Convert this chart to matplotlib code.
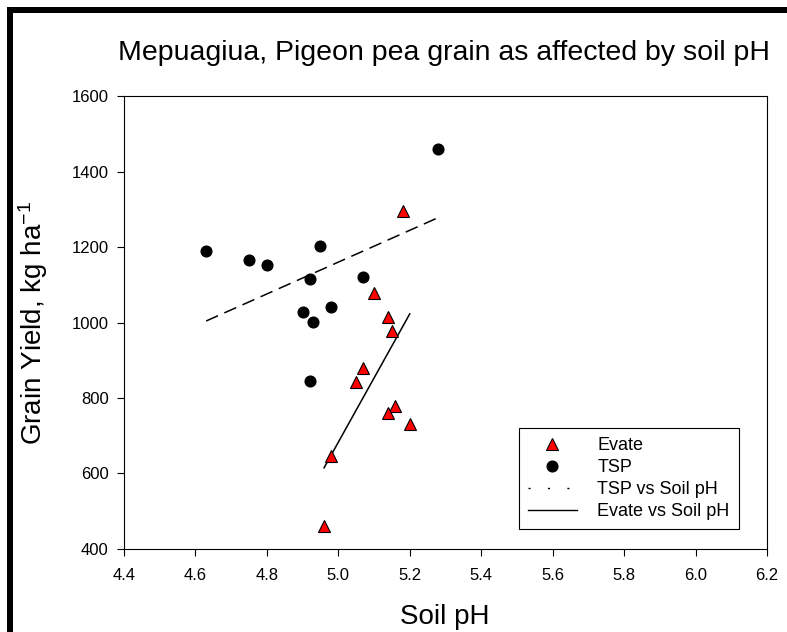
import matplotlib
matplotlib.use("Agg")
import matplotlib.pyplot as plt
from matplotlib.lines import Line2D
from matplotlib.patches import Rectangle

plt.rcParams['font.family'] = ['Liberation Sans', 'DejaVu Sans']
plt.rcParams['mathtext.default'] = 'regular'

# Evate (red triangles)
evate_ph = [5.18, 5.10, 5.14, 5.15, 5.07, 5.05, 5.16, 5.14, 5.20, 4.98, 4.96]
evate_yield = [1295, 1078, 1015, 978, 880, 842, 778, 760, 730, 647, 460]

# TSP (black circles)
tsp_ph = [4.63, 4.75, 4.80, 4.95, 4.92, 5.07, 4.90, 4.93, 4.98, 4.92, 5.28]
tsp_yield = [1190, 1165, 1152, 1202, 1115, 1120, 1028, 1002, 1040, 846, 1459]

# fitted lines as drawn in the original
tsp_fit_ph = [4.63, 5.28]
tsp_fit_yield = [1004, 1278]
evate_fit_ph = [4.96, 5.20]
evate_fit_yield = [615, 1023]

xticks = [4.4, 4.6, 4.8, 5.0, 5.2, 5.4, 5.6, 5.8, 6.0, 6.2]
yticks = [400, 600, 800, 1000, 1200, 1400, 1600]

fig = plt.figure(figsize=(7.87, 6.32), dpi=100)
ax = fig.add_axes([0.15756, 0.13133, 0.81703, 0.71677])

ax.plot(tsp_fit_ph, tsp_fit_yield, color='black', lw=1.1, dashes=(8.5, 4.5))
ax.plot(evate_fit_ph, evate_fit_yield, color='black', lw=1.1)
ax.plot(tsp_ph, tsp_yield, 'o', color='black', ms=7.7, ls='none')
ax.plot(evate_ph, evate_yield, '^', mfc='#ff0000', mec='black', mew=0.8, ms=8.5, ls='none')

ax.set_xlim(4.4, 6.2)
ax.set_ylim(400, 1600)
ax.set_xticks(xticks)
ax.set_xticklabels([f"{t:.1f}" for t in xticks])
ax.set_yticks(yticks)
ax.tick_params(axis='both', direction='out', length=5, width=0.8, labelsize=12)
ax.tick_params(axis='x', pad=9)
ax.tick_params(axis='y', pad=6)
for s in ax.spines.values():
    s.set_linewidth(0.8)

handles = [
    Line2D([], [], marker='^', mfc='#ff0000', mec='black', mew=0.8, ms=8.5, ls='none'),
    Line2D([], [], marker='o', color='black', ms=7.7, ls='none'),
    Line2D([], [], color='black', lw=1.0, dashes=(1.5, 12.5)),
    Line2D([], [], color='black', lw=1.0),
]
labels = ['Evate', 'TSP', 'TSP vs Soil pH', 'Evate vs Soil pH']
leg = ax.legend(handles, labels, loc='upper left', bbox_to_anchor=(0.614, 0.267),
                borderaxespad=0, fontsize=13, labelspacing=0.28, handlelength=2.7,
                handletextpad=1.15, borderpad=0.5, fancybox=False, framealpha=1)
leg.get_frame().set_edgecolor('black')
leg.get_frame().set_linewidth(0.8)

fig.text(443.5 / 787, 1 - 60 / 632, 'Mepuagiua, Pigeon pea grain as affected by soil pH',
         ha='center', va='baseline', fontsize=20.5)
fig.text(445 / 787, 8 / 632, 'Soil pH', ha='center', va='baseline', fontsize=20)
fig.text(33 / 787, 0.4897, 'Grain Yield, kg ha$^{-1}$', rotation=90,
         ha='center', va='center', fontsize=20)

# thick border on top and left
fig.add_artist(Rectangle((7 / 787, 1 - 13 / 632), 1, 6 / 632, transform=fig.transFigure,
                         color='black', lw=0))
fig.add_artist(Rectangle((7 / 787, 0), 6 / 787, 1 - 7 / 632, transform=fig.transFigure,
                         color='black', lw=0))

fig.savefig('out.png', dpi=100)
